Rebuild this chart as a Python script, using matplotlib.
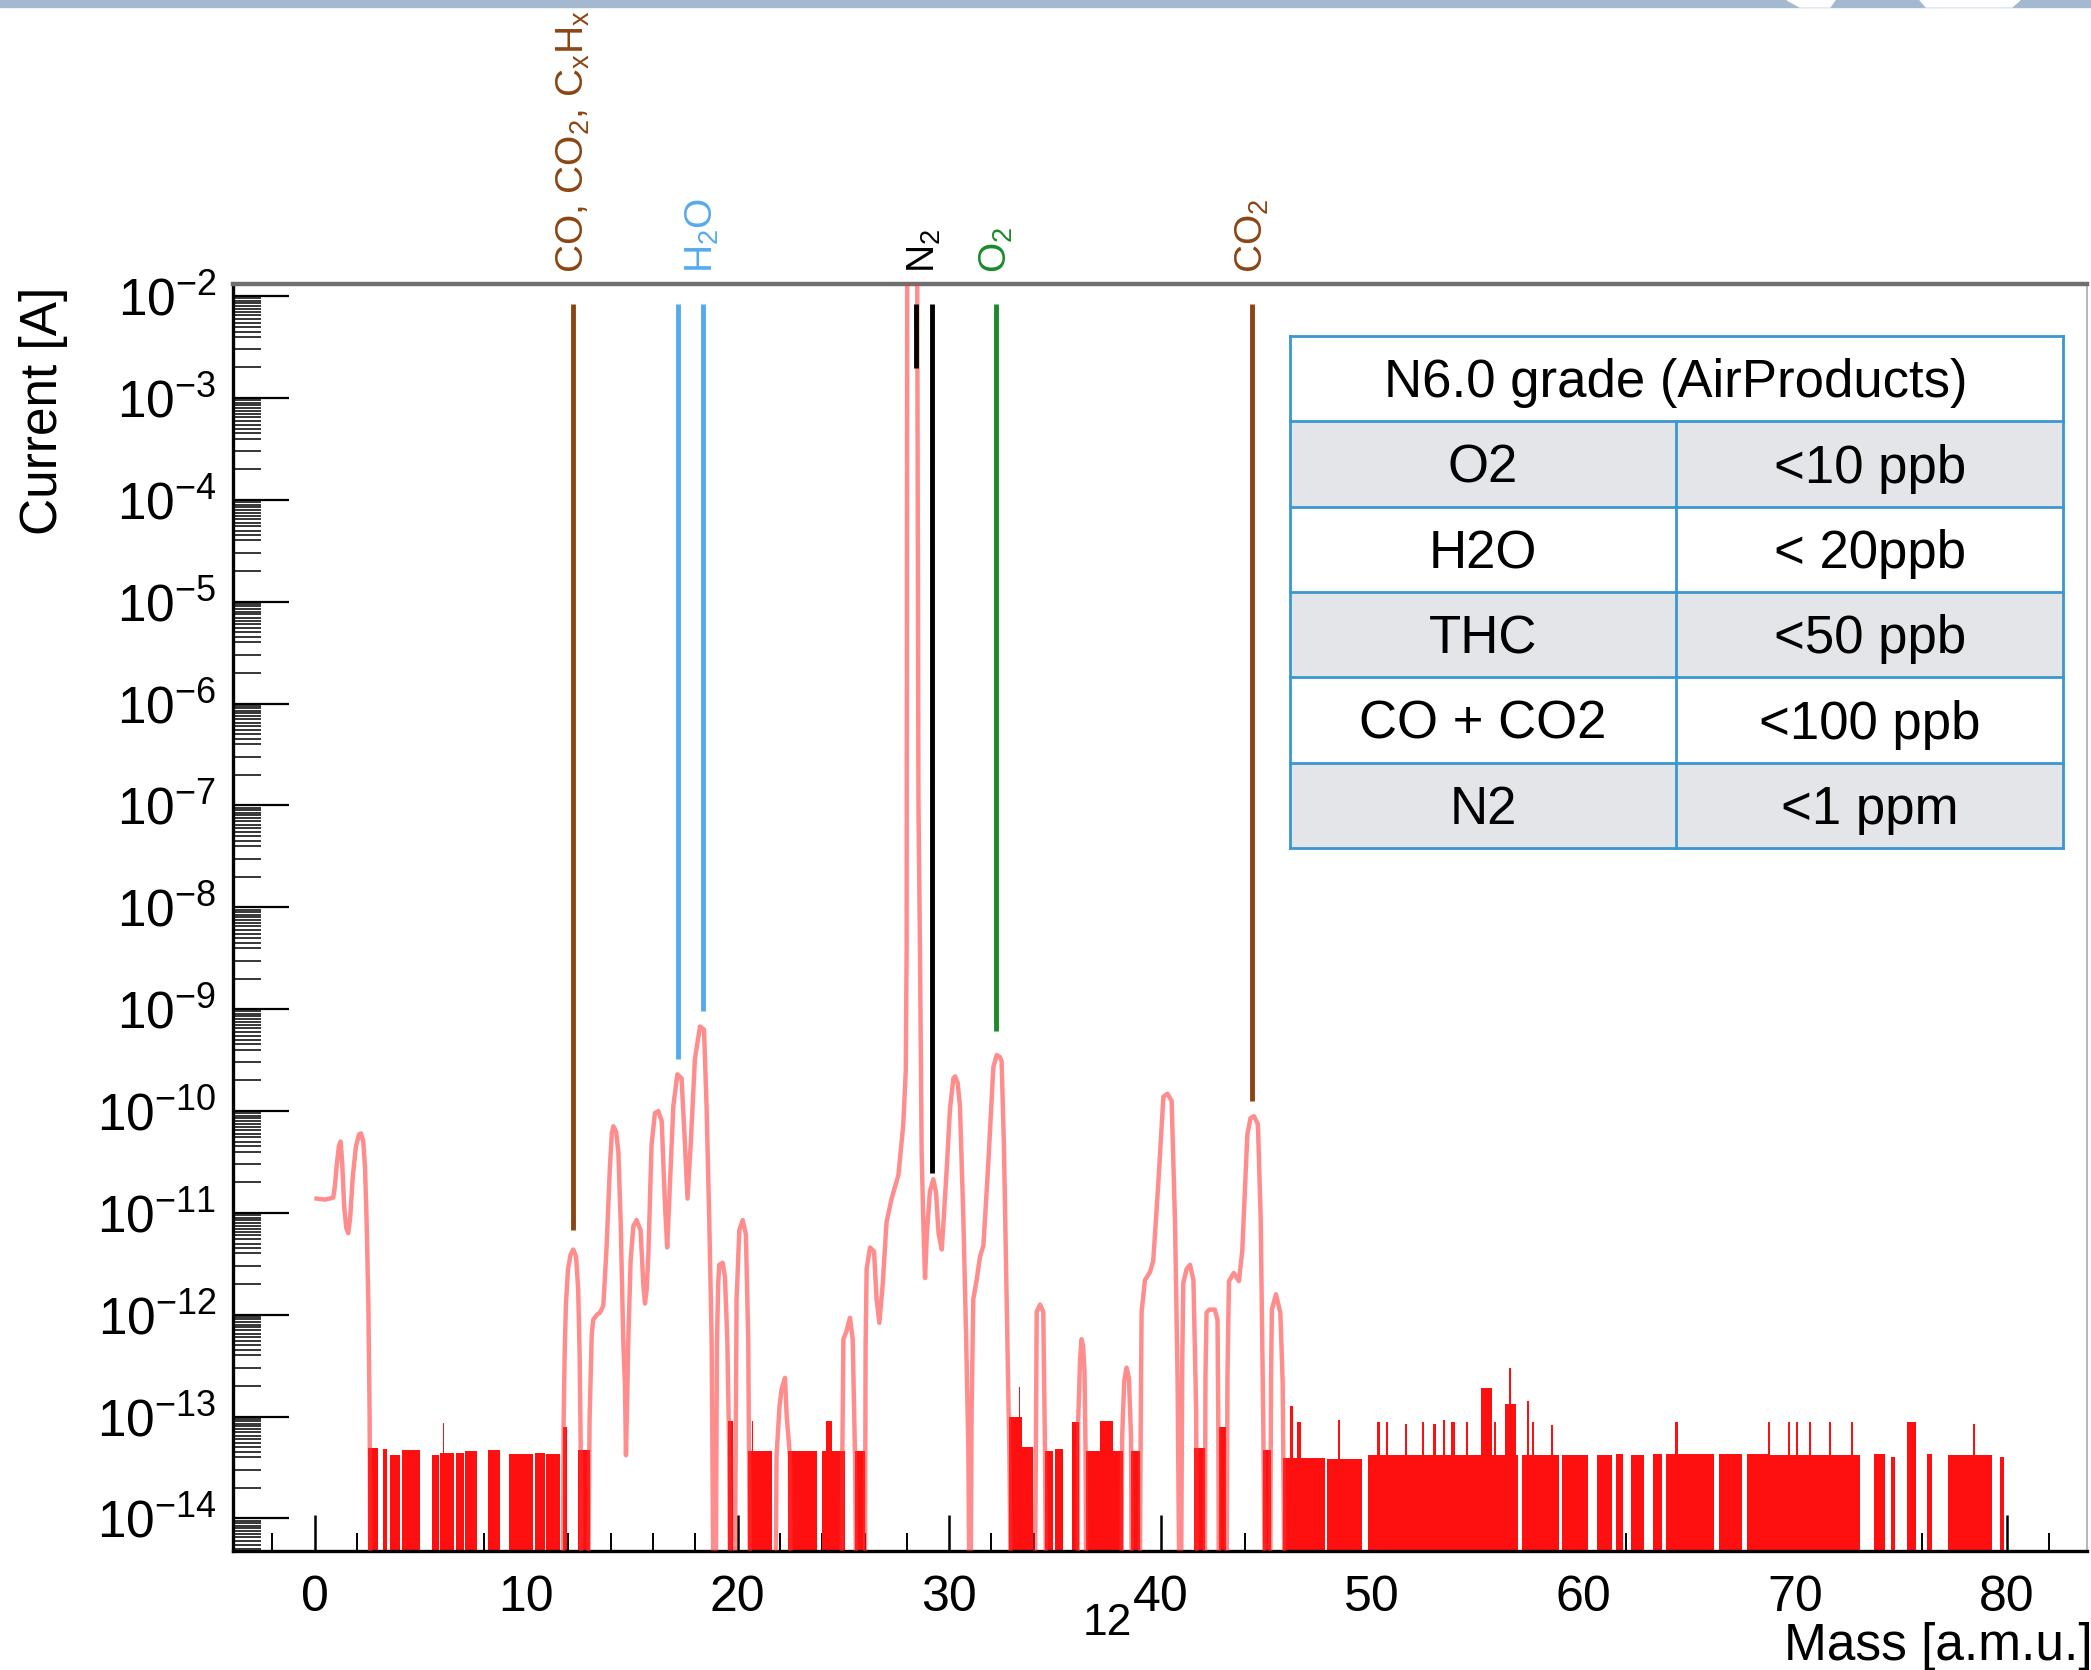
import numpy as np
import matplotlib.pyplot as plt
import matplotlib.transforms as mtransforms
from matplotlib.patches import Rectangle, Polygon
from matplotlib.ticker import LogLocator, MultipleLocator, FixedLocator, FuncFormatter, NullFormatter

plt.rcParams['font.family'] = ['Liberation Sans', 'DejaVu Sans']
plt.rcParams['mathtext.fontset'] = 'custom'
plt.rcParams['mathtext.rm'] = 'Liberation Sans'
plt.rcParams['mathtext.it'] = 'Liberation Sans:italic'
plt.rcParams['mathtext.bf'] = 'Liberation Sans:bold'

# ---- data (mass in a.m.u., log10 of current in A) ----
BOTTOM = -14.6  # below the axis: signal dropped out

scan_mass = [
    0.09, 0.5, 0.88, 0.95, 1.05, 1.15, 1.23, 1.3, 1.4, 1.5, 1.59, 1.68, 1.8, 1.95, 2.1, 2.19, 2.3, 2.38, 2.46, 2.54, 2.6, 2.63,
    11.74, 11.77, 11.82, 11.88, 11.98, 12.1, 12.23, 12.36, 12.46, 12.53, 12.58, 12.61,
    12.94, 13.0, 13.1, 13.17, 13.35, 13.49, 13.65, 13.8, 13.96, 14.05, 14.12, 14.25, 14.36, 14.47, 14.59, 14.67, 14.72,
    14.78, 14.83, 14.94, 15.07, 15.22, 15.41, 15.54, 15.62, 15.7, 15.78, 15.93, 16.09, 16.25, 16.41, 16.56, 16.67,
    16.8, 16.96, 17.15, 17.35, 17.51, 17.63, 17.78, 17.98, 18.22, 18.41, 18.53, 18.66, 18.77, 18.85,
    18.97, 19.02, 19.08, 19.13, 19.29, 19.4, 19.51, 19.6, 19.64,
    19.87, 19.95, 20.08, 20.24, 20.39, 20.5, 20.58,
    21.8, 21.84, 21.98, 22.08, 22.24, 22.32, 22.47, 22.5,
    24.92, 24.95, 25.0, 25.15, 25.31, 25.44, 25.55, 25.6,
    26.02, 26.05, 26.1, 26.26, 26.45, 26.57, 26.7, 26.86, 27.04, 27.28, 27.6, 27.83, 27.95, 27.99, 28.02, 28.48,
    28.55, 28.62, 28.7, 28.78, 28.86, 28.95, 29.09, 29.25, 29.38, 29.5, 29.65, 29.76, 29.88, 30.04, 30.2, 30.28,
    30.4, 30.51, 30.67, 30.8, 30.91, 30.95,
    31.02, 31.06, 31.14, 31.3, 31.46, 31.62, 31.85, 32.09, 32.25, 32.4, 32.48, 32.59, 32.72, 32.85, 32.91,
    34.06, 34.1, 34.14, 34.3, 34.45, 34.53, 34.58,
    36.08, 36.1, 36.19, 36.26, 36.33, 36.4, 36.45, 36.48,
    38.15, 38.18, 38.28, 38.39, 38.5, 38.6, 38.63,
    39.02, 39.06, 39.1, 39.26, 39.5, 39.65, 39.89, 40.13, 40.32, 40.52, 40.68, 40.8, 40.88,
    40.97, 41.02, 41.07, 41.23, 41.39, 41.55, 41.68, 41.71,
    42.09, 42.12, 42.17, 42.3, 42.56, 42.69, 42.73, 42.75,
    43.12, 43.16, 43.23, 43.46, 43.7, 43.86, 44.1, 44.25, 44.41, 44.6, 44.73, 44.85, 44.92,
    45.18, 45.22, 45.26, 45.45, 45.66, 45.77, 45.85,
]
scan_log10 = [
    -10.86, -10.87, -10.85, -10.75, -10.52, -10.34, -10.30, -10.5, -10.95, -11.15, -11.2, -11.05, -10.65, -10.35, -10.23, -10.22, -10.3, -10.55, -11.1, -11.9, -13.0, BOTTOM,
    BOTTOM, -13.1, -12.4, -11.9, -11.55, -11.41, -11.36, -11.43, -11.75, -12.4, -13.3, BOTTOM,
    BOTTOM, -13.03, -12.2, -12.05, -12.0, -11.98, -11.91, -11.35, -10.55, -10.22, -10.15, -10.2, -10.4, -11.09, -12.24, -12.69, -13.38,
    -12.8, -12.24, -11.47, -11.13, -11.07, -11.17, -11.7, -11.89, -11.75, -11.4, -10.33, -10.02, -10.0, -10.1, -10.9, -11.34,
    -10.71, -9.95, -9.64, -9.68, -10.33, -10.86, -10.33, -9.49, -9.17, -9.2, -9.95, -11.09, -12.24, BOTTOM,
    BOTTOM, -12.3, -11.7, -11.51, -11.49, -11.63, -12.24, -13.3, BOTTOM,
    BOTTOM, -11.85, -11.17, -11.07, -11.21, -12.24, BOTTOM,
    BOTTOM, -13.38, -12.9, -12.73, -12.62, -13.0, -13.38, BOTTOM,
    BOTTOM, -13.38, -12.24, -12.16, -12.03, -12.24, -13.38, BOTTOM,
    BOTTOM, -12.3, -11.55, -11.34, -11.38, -11.85, -12.08, -11.7, -11.09, -10.86, -10.63, -10.14, -9.6, -8.4, -1.0, -1.0,
    -7.0, -8.4, -10.4, -11.1, -11.64, -11.2, -10.79, -10.67, -10.8, -11.2, -11.36, -11.0, -10.59, -9.98, -9.68, -9.66,
    -9.72, -9.95, -11.04, -12.19, -13.34, BOTTOM,
    BOTTOM, -13.0, -11.85, -11.66, -11.43, -11.32, -10.52, -9.57, -9.45, -9.47, -9.51, -10.33, -11.85, -13.38, BOTTOM,
    BOTTOM, -13.38, -11.97, -11.9, -11.97, -13.3, BOTTOM,
    BOTTOM, -13.05, -12.45, -12.24, -12.3, -12.55, -13.34, BOTTOM,
    BOTTOM, -13.2, -12.65, -12.52, -12.62, -13.2, BOTTOM,
    BOTTOM, -13.0, -11.97, -11.66, -11.58, -11.47, -10.71, -9.86, -9.83, -9.9, -11.09, -12.62, BOTTOM,
    BOTTOM, -12.5, -11.69, -11.55, -11.51, -11.66, -12.94, BOTTOM,
    BOTTOM, -12.6, -11.98, -11.95, -11.95, -12.05, -13.2, BOTTOM,
    BOTTOM, -12.6, -11.67, -11.59, -11.67, -11.37, -10.23, -10.07, -10.05, -10.13, -11.05, -13.01, BOTTOM,
    BOTTOM, -12.6, -11.95, -11.8, -11.98, -12.67, BOTTOM,
]

# noise floor bands: start mass, end mass, log10 level
noise_start = [2.54, 3.21, 3.56, 4.11, 5.53, 5.95, 6.08, 6.68, 7.12, 8.21, 9.2, 10.41, 10.96, 11.76, 12.46,
               19.55, 20.5, 20.66, 22.4, 23.97, 24.2, 25.55, 32.85, 33.28, 33.45, 34.53, 35.0, 35.79, 36.45,
               37.13, 37.76, 38.6, 41.6, 42.75, 44.85, 45.8, 46.12, 46.45, 47.88, 48.4, 49.8, 50.25, 50.65,
               51.55, 52.35, 52.9, 53.35, 53.75, 54.45, 55.16, 55.75, 56.3, 56.47, 57.08, 57.3, 57.55, 58.45,
               59.0, 60.63, 61.53, 62.23, 63.28, 63.9, 64.3, 66.42, 67.73, 68.7, 68.73, 69.68, 70.05, 70.65,
               71.6, 72.65, 73.75, 74.53, 75.28, 76.24, 77.23, 78.4, 79.7]
noise_end = [3.01, 3.43, 4.03, 4.98, 5.9, 6.6, 6.14, 7.05, 7.66, 8.76, 10.33, 10.88, 11.6, 11.91, 13.02,
             19.8, 21.64, 20.74, 23.73, 25.07, 24.45, 26.02, 33.45, 33.35, 33.98, 34.93, 35.4, 36.12, 37.13,
             37.76, 38.2, 39.02, 42.09, 43.07, 45.2, 47.75, 46.28, 46.65, 49.5, 48.5, 56.9, 50.35, 50.75,
             51.65, 52.45, 53.0, 53.45, 53.9, 54.55, 55.69, 55.85, 56.8, 56.55, 58.83, 57.4, 57.65, 58.55,
             60.22, 61.35, 61.88, 62.84, 63.72, 66.15, 64.45, 67.5, 68.7, 73.05, 68.82, 69.78, 70.15, 70.74,
             71.7, 72.75, 74.27, 74.7, 75.72, 76.45, 79.33, 78.5, 79.88]
noise_level = [-13.31, -13.32, -13.38, -13.33, -13.38, -13.36, -13.06, -13.36, -13.34, -13.33, -13.37, -13.36, -13.37, -13.1, -13.33,
               -13.04, -13.34, -13.04, -13.34, -13.34, -13.04, -13.34, -13.0, -12.71, -13.3, -13.34, -13.32, -13.05, -13.34,
               -13.04, -13.34, -13.34, -13.31, -13.1, -13.33, -13.41, -12.9, -13.05, -13.42, -13.03, -13.38, -13.05, -13.05,
               -13.07, -13.05, -13.07, -13.03, -13.05, -13.05, -12.72, -13.05, -12.88, -12.52, -13.38, -12.85, -13.05, -13.08,
               -13.38, -13.38, -13.37, -13.38, -13.37, -13.37, -13.05, -13.37, -13.37, -13.38, -13.05, -13.05, -13.05, -13.05,
               -13.05, -13.05, -13.37, -13.4, -13.05, -13.37, -13.38, -13.07, -13.4]

# gas markers
ann_labels = [r"CO, CO$_2$, C$_\mathrm{x}$H$_\mathrm{x}$", r"H$_2$O", r"N$_2$", r"O$_2$", r"CO$_2$"]
ann_label_mass = [12.23, 18.35, 28.81, 32.23, 44.33]
ann_label_color = ['#8b4513', '#55aaee', 'black', '#1a8a2a', '#8b4513']
ann_line_mass = [12.23, 17.2, 18.37, 28.43, 29.18, 32.23, 44.33]
ann_line_low = [-11.17, -9.49, -9.02, -2.70, -10.61, -9.21, -9.90]
ann_line_color = ['#8b4513', '#55aaee', '#55aaee', 'black', 'black', '#1a8a2a', '#8b4513']
ann_line_top = -2.08

table_title = "N6.0 grade (AirProducts)"
table_gas = ["O2", "H2O", "THC", "CO + CO2", "N2"]
table_limit = ["<10 ppb", "< 20ppb", "<50 ppb", "<100 ppb", "<1 ppm"]

x_ticks = [0, 10, 20, 30, 40, 50, 60, 70, 80]
y_decades = list(range(-14, -1))

# ---- figure ----
W, H = 2091, 1670
fig = plt.figure(figsize=(W / 100, H / 100), dpi=100)


def fx(px):
    return px / W


def fy(py):
    return 1 - py / H


# slide header strip
fig.patches.append(Rectangle((0, fy(7)), 1, 7 / H, transform=fig.transFigure, color='#a4b9cf', zorder=0))
fig.patches.append(Polygon([(fx(1787), fy(0)), (fx(1835), fy(0)), (fx(1830), fy(7)), (fx(1800), fy(7))],
                           closed=True, transform=fig.transFigure, color='white', zorder=1))
fig.patches.append(Polygon([(fx(1920), fy(0)), (fx(2020), fy(0)), (fx(2012), fy(7)), (fx(1926), fy(7))],
                           closed=True, transform=fig.transFigure, color='white', zorder=1))

ax = fig.add_axes([fx(233), fy(1551), fx(2087) - fx(233), fy(284) - fy(1551)])
ax.set_yscale('log')
ax.set_xlim(-3.86, 83.8)
ax.set_ylim(10 ** -14.32, 10 ** -1.88)

# noise floor
ns = np.array(noise_start)
ne = np.array(noise_end)
ax.bar(ns, 10.0 ** np.array(noise_level) - 1e-16, width=ne - ns, bottom=1e-16, align='edge',
       color='#ff1010', linewidth=0, zorder=2)

# spectrum line
ax.plot(scan_mass, 10.0 ** np.array(scan_log10), color='#ff3030', alpha=0.55, lw=3.2, zorder=3,
        solid_joinstyle='round')

# marker lines
ax.vlines(ann_line_mass, 10.0 ** np.array(ann_line_low), 10 ** ann_line_top, colors=ann_line_color,
          lw=3.5, zorder=4)

trans = mtransforms.blended_transform_factory(ax.transData, ax.transAxes)
for lab, m, c in zip(ann_labels, ann_label_mass, ann_label_color):
    ax.text(m, (1551 - 273) / (1551 - 284), lab, transform=trans, rotation=90, ha='center', va='bottom',
            color=c, fontsize=28, clip_on=False)

# axes style
for side in ['left', 'bottom']:
    ax.spines[side].set_linewidth(2.4)
    ax.spines[side].set_color('black')
ax.spines['top'].set_linewidth(3.2)
ax.spines['top'].set_color('#6f6f6f')
ax.spines['right'].set_linewidth(1.2)
ax.spines['right'].set_color('#aaaaaa')

ax.xaxis.set_major_locator(FixedLocator(x_ticks))
ax.xaxis.set_minor_locator(MultipleLocator(2))
ax.yaxis.set_major_locator(FixedLocator([10.0 ** d for d in y_decades]))
ax.yaxis.set_minor_locator(LogLocator(base=10, subs=[2, 3, 4, 4.5, 5, 5.5, 6, 6.5, 7, 7.5, 8, 8.5, 9, 9.5],
                                      numticks=200))
ax.yaxis.set_minor_formatter(NullFormatter())
ax.yaxis.set_major_formatter(FuncFormatter(lambda v, p: r"$\mathregular{10^{%d}}$" % round(np.log10(v))))

ax.tick_params(axis='y', which='major', direction='in', length=40, width=1.6, labelsize=37, pad=12)
ax.tick_params(axis='y', which='minor', direction='in', length=20, width=1.1)
ax.tick_params(axis='x', which='major', direction='in', length=26, width=1.8, labelsize=36, pad=17)
ax.tick_params(axis='x', which='minor', direction='in', length=13, width=1.4)

fig.text(fx(43), fy(287), "Current [A]", rotation=90, ha='center', va='top', fontsize=37)
fig.text(fx(2093), fy(1660), "Mass [a.m.u.]", ha='right', va='baseline', fontsize=37)
fig.text(fx(1107), fy(1635), "12", ha='center', va='baseline', fontsize=32)

# purity table
tab = fig.add_axes([fx(1289.5), fy(848), fx(2063) - fx(1289.5), fy(336) - fy(848)])
tab.set_xlim(0, 1)
tab.set_ylim(6, 0)
tab.axis('off')
edge = '#3a97cf'
for i in range(6):
    fill = 'white' if i % 2 == 0 else '#e4e5e9'
    tab.add_patch(Rectangle((0, i), 1, 1, facecolor=fill, edgecolor='none', zorder=1))
for i in range(7):
    tab.plot([0, 1], [i, i], color=edge, lw=2, zorder=2, clip_on=False)
tab.plot([0, 0], [0, 6], color=edge, lw=2, zorder=2, clip_on=False)
tab.plot([1, 1], [0, 6], color=edge, lw=2, zorder=2, clip_on=False)
tab.plot([0.5, 0.5], [1, 6], color=edge, lw=2, zorder=2, clip_on=False)
base = 0.72
tab.text(0.5, base, table_title, ha='center', va='baseline', fontsize=38, zorder=3)
for i, (g, lim) in enumerate(zip(table_gas, table_limit)):
    tab.text(0.25, i + 1 + base, g, ha='center', va='baseline', fontsize=38, zorder=3)
    tab.text(0.75, i + 1 + base, lim, ha='center', va='baseline', fontsize=38, zorder=3)

fig.savefig('out.png', dpi=100)
